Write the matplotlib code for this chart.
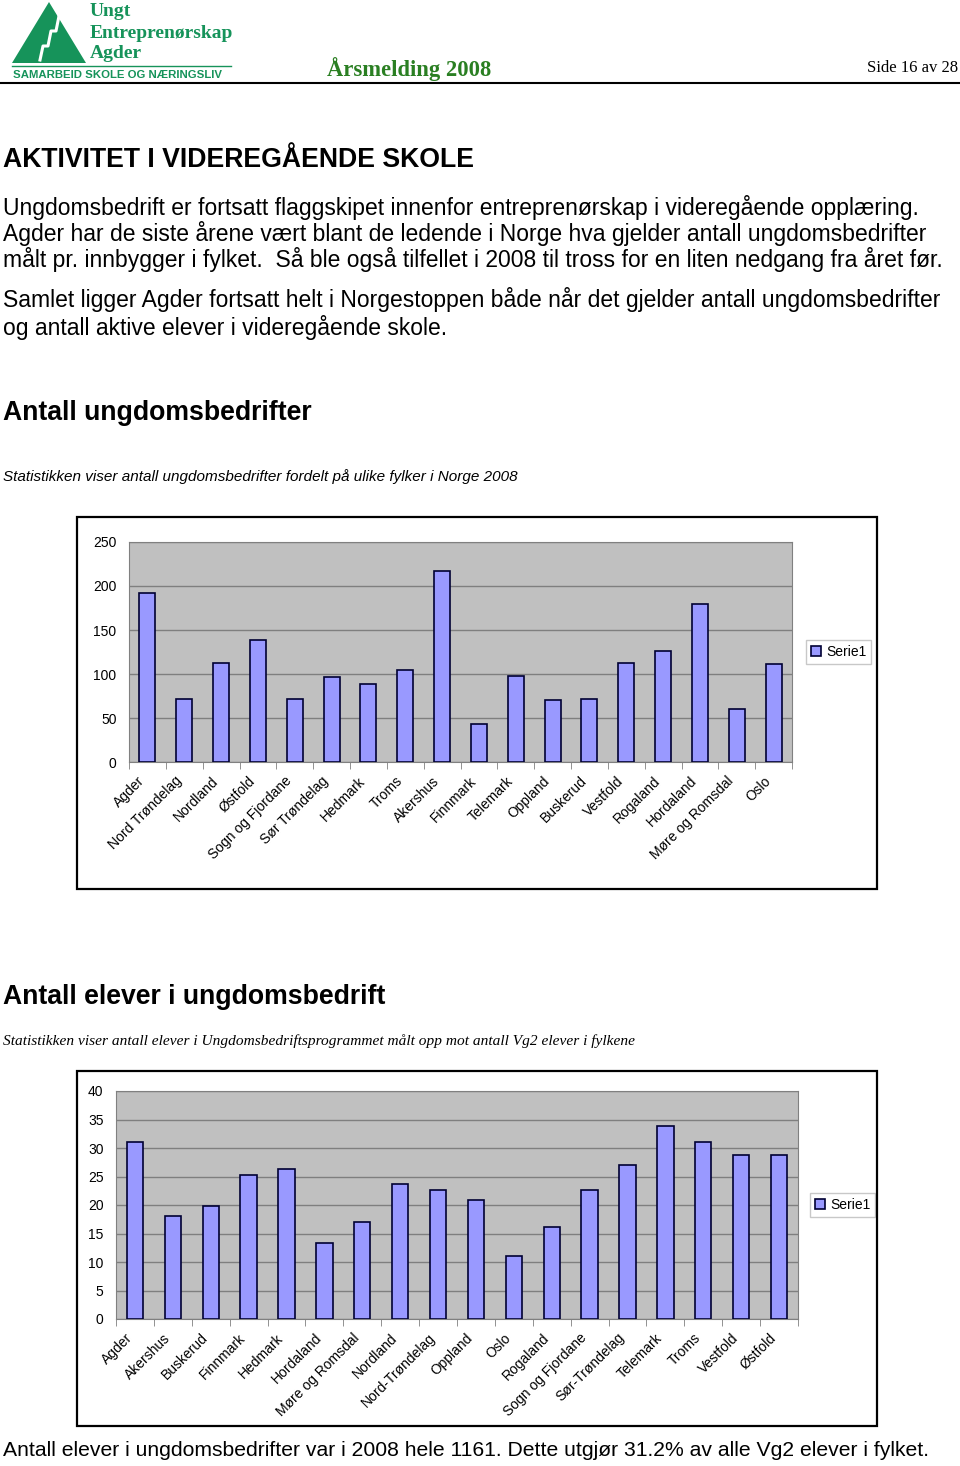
import matplotlib
matplotlib.use("Agg")
import numpy as np
import matplotlib.pyplot as plt
from matplotlib.patches import Rectangle, Polygon
from matplotlib.lines import Line2D
from matplotlib.transforms import ScaledTranslation

W, H = 960, 1466

# Antall ungdomsbedrifter per fylke 2008
fylker_ub = ["Agder", "Nord Trøndelag", "Nordland", "Østfold", "Sogn og Fjordane",
             "Sør Trøndelag", "Hedmark", "Troms", "Akershus", "Finnmark", "Telemark",
             "Oppland", "Buskerud", "Vestfold", "Rogaland", "Hordaland",
             "Møre og Romsdal", "Oslo"]
antall_ub = [192, 72, 113, 139, 72, 97, 89, 105, 217, 43, 98, 70, 72, 112, 126, 180, 60, 111]

# Antall elever i ungdomsbedrift (målt mot Vg2 elever)
fylker_el = ["Agder", "Akershus", "Buskerud", "Finnmark", "Hedmark", "Hordaland",
             "Møre og Romsdal", "Nordland", "Nord-Trøndelag", "Oppland", "Oslo",
             "Rogaland", "Sogn og Fjordane", "Sør-Trøndelag", "Telemark", "Troms",
             "Vestfold", "Østfold"]
antall_el = [31.1, 18.1, 19.8, 25.3, 26.4, 13.4, 17.1, 23.6, 22.7, 20.8, 11.1,
             16.1, 22.6, 27.1, 33.8, 31.0, 28.7, 28.7]

SANS = "Liberation Sans"
SERIF = "Liberation Serif"
LOGO_GREEN = "#16935a"
TITLE_GREEN = "#2a7f22"

fig = plt.figure(figsize=(W / 100, H / 100), dpi=100)


def fx(x):
    return x / W


def fy(y):
    return 1 - y / H


def txt(x, y, s, **kw):
    kw.setdefault("family", SANS)
    kw.setdefault("va", "center")
    fig.text(fx(x), fy(y), s, **kw)


def hline(x0, x1, y, **kw):
    fig.add_artist(Line2D([fx(x0), fx(x1)], [fy(y), fy(y)], transform=fig.transFigure, **kw))


def frame(x0, y0, x1, y1):
    fig.add_artist(Rectangle((fx(x0), fy(y1)), (x1 - x0) / W, (y1 - y0) / H,
                             transform=fig.transFigure, fill=False, ec="black", lw=1.6))


# --- topptekst med logo ---
tri = [(fx(49), fy(2)), (fx(12), fy(63)), (fx(86), fy(63))]
fig.add_artist(Polygon(tri, closed=True, transform=fig.transFigure, fc=LOGO_GREEN, ec="none"))
zig = [(59, 16), (56, 31), (51, 31), (48, 46), (43, 46), (40, 60)]
fig.add_artist(Line2D([fx(p[0]) for p in zig], [fy(p[1]) for p in zig],
                      transform=fig.transFigure, color="white", lw=2.2))
txt(90, 11, "Ungt", family=SERIF, weight="bold", size=14, color=LOGO_GREEN)
txt(90, 33, "Entreprenørskap", family=SERIF, weight="bold", size=14, color=LOGO_GREEN)
txt(90, 54, "Agder", family=SERIF, weight="bold", size=14, color=LOGO_GREEN)
hline(12, 231, 66, color=LOGO_GREEN, lw=1)
txt(13, 75, "SAMARBEID SKOLE OG NÆRINGSLIV", weight="bold", size=8.2, color=LOGO_GREEN)
txt(409, 69, "Årsmelding 2008", family=SERIF, weight="bold", size=16.3, color=TITLE_GREEN, ha="center")
txt(958, 68, "Side 16 av 28", family=SERIF, size=12, ha="right")
hline(0, 960, 83, color="black", lw=1.5)

# --- brødtekst ---
txt(3, 160, "AKTIVITET I VIDEREGÅENDE SKOLE", weight="bold", size=19.2)
body = [
    (207, "Ungdomsbedrift er fortsatt flaggskipet innenfor entreprenørskap i videregående opplæring."),
    (234, "Agder har de siste årene vært blant de ledende i Norge hva gjelder antall ungdomsbedrifter"),
    (260, "målt pr. innbygger i fylket.  Så ble også tilfellet i 2008 til tross for en liten nedgang fra året før."),
    (300, "Samlet ligger Agder fortsatt helt i Norgestoppen både når det gjelder antall ungdomsbedrifter"),
    (327, "og antall aktive elever i videregående skole."),
]
for y, s in body:
    txt(3, y, s, size=16.5)

txt(3, 413, "Antall ungdomsbedrifter", weight="bold", size=19.2)
txt(3, 477, "Statistikken viser antall ungdomsbedrifter fordelt på ulike fylker i Norge 2008",
    style="italic", size=11)
txt(3, 997, "Antall elever i ungdomsbedrift", weight="bold", size=19.2)
txt(3, 1041, "Statistikken viser antall elever i Ungdomsbedriftsprogrammet målt opp mot antall Vg2 elever i fylkene",
    family=SERIF, style="italic", size=11.05)
txt(3, 1451, "Antall elever i ungdomsbedrifter var i 2008 hele 1161. Dette utgjør 31.2% av alle Vg2 elever i fylket.",
    size=15.2)


def bar_chart(box, labels, values, ymax, step, legend_xy):
    x0, y0, x1, y1 = box
    ax = fig.add_axes([fx(x0), fy(y1), (x1 - x0) / W, (y1 - y0) / H])
    pos = np.arange(len(labels))
    bars = ax.bar(pos, values, width=0.43, color="#9999ff", edgecolor="#000033",
                  linewidth=1.2, zorder=3)
    ax.set_xlim(-0.5, len(labels) - 0.5)
    ax.set_ylim(0, ymax)
    ax.set_facecolor("#c0c0c0")
    ax.set_yticks(np.arange(0, ymax + 1, step))
    ax.yaxis.grid(True, color="#7f7f7f", lw=1)
    ax.set_axisbelow(True)
    for sp in ax.spines.values():
        sp.set_color("#808080")
    ax.set_xticks(pos)
    ax.set_xticklabels(labels, rotation=45, ha="right", va="center",
                       rotation_mode="anchor", fontsize=10, family=SANS)
    ax.set_xticks(np.arange(-0.5, len(labels)), minor=True)
    ax.tick_params(axis="x", which="major", length=0, pad=12)
    ax.tick_params(axis="x", which="minor", length=5, color="#808080")
    ax.tick_params(axis="y", length=0, pad=9, labelsize=10)
    for lbl in ax.get_yticklabels():
        lbl.set_family(SANS)
    shift = ScaledTranslation(-5 / 100, 0, fig.dpi_scale_trans)
    for lbl in ax.get_xticklabels():
        lbl.set_transform(lbl.get_transform() + shift)
    ax.legend([bars], ["Serie1"], loc="center left",
              bbox_to_anchor=(fx(legend_xy[0]), fy(legend_xy[1])),
              bbox_transform=fig.transFigure, fancybox=False, framealpha=1,
              edgecolor="#c8c8c8", handlelength=0.7, handleheight=0.7,
              borderpad=0.35, handletextpad=0.4, borderaxespad=0,
              prop={"family": SANS, "size": 10})
    return ax


frame(77, 517, 877, 889)
bar_chart((129, 542, 792, 762), fylker_ub, antall_ub, 250, 50, (806, 652))

frame(77, 1071, 877, 1426)
bar_chart((116, 1091, 798, 1319), fylker_el, antall_el, 40, 5, (810, 1205))

fig.savefig("out.png", dpi=100)
